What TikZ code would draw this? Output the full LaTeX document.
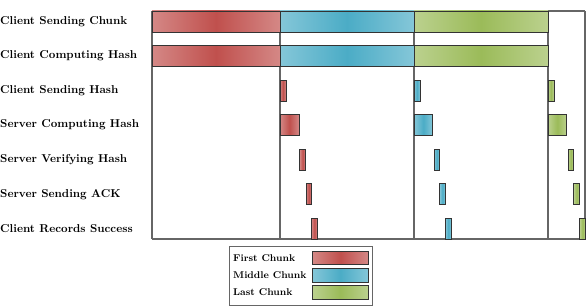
\documentclass[tikz,border=0pt]{standalone}
\definecolor{cred}{HTML}{C0504D}
\definecolor{cblue}{HTML}{4BACC6}
\definecolor{cgreen}{HTML}{9BBB59}
\definecolor{framec}{HTML}{666666}
\definecolor{barline}{HTML}{333333}
\tikzset{
  framel/.style={draw=framec, line width=1.1pt},
  barbox/.style={draw=barline, line width=0.7pt, left color=#1!68!white, right color=#1!68!white, middle color=#1},
  rowlabel/.style={anchor=west, inner sep=0pt, font=\bfseries},
  leglabel/.style={anchor=west, inner sep=0pt, font=\fontsize{8.6}{10}\selectfont\bfseries},
}
\newcommand\chbar[4]{% color, x1, x2, top
  \path[barbox=#1] (#2,#4) rectangle (#3,#4+21);}
\begin{document}
\begin{tikzpicture}[x=0.875pt,y=-0.875pt]
\useasboundingbox (0,0) rectangle (586,308);
% frame
\draw[framel] (152,11) -- (585,11);
\draw[framel] (152,239) -- (585,239);
\foreach \xx in {152,280,414,548,585} \draw[framel] (\xx,11) -- (\xx,239);
% labels
\node[rowlabel] (l1) at (0,21.5) {Client Sending Chunk};
\node[rowlabel] (l2) at (0,56.05) {Client Computing Hash};
\node[rowlabel] (l3) at (0,90.6) {Client Sending Hash};
\node[rowlabel] (l4) at (0,125.15) {Server Computing Hash};
\node[rowlabel] (l5) at (0,159.7) {Server Verifying Hash};
\node[rowlabel] (l6) at (0,194.25) {Server Sending ACK};
\node[rowlabel] (l7) at (0,228.8) {Client Records Success};
% row 1 and 2
\foreach \tp in {11,45.55}{
  \chbar{cred}{152}{280}{\tp}
  \chbar{cblue}{280}{414}{\tp}
  \chbar{cgreen}{414}{548}{\tp}
}
% row 3
\chbar{cred}{280}{286}{80.1}
\chbar{cblue}{414}{420}{80.1}
\chbar{cgreen}{548}{554}{80.1}
% row 4
\chbar{cred}{280}{299}{114.65}
\chbar{cblue}{414}{432.7}{114.65}
\chbar{cgreen}{548}{566.7}{114.65}
% row 5
\chbar{cred}{299.7}{305.7}{149.2}
\chbar{cblue}{434}{439.7}{149.2}
\chbar{cgreen}{568}{573.7}{149.2}
% row 6
\chbar{cred}{306}{311.7}{183.75}
\chbar{cblue}{439.7}{445.3}{183.75}
\chbar{cgreen}{573.7}{579.7}{183.75}
% row 7
\chbar{cred}{311.5}{317.3}{218.3}
\chbar{cblue}{445.3}{451.3}{218.3}
\chbar{cgreen}{579.7}{585.5}{218.3}
% legend
\draw[draw=framec, line width=0.6pt] (229,246) rectangle (372.7,305);
\node[leglabel] (lg1) at (233,258) {First Chunk};
\node[leglabel] (lg2) at (233,275.3) {Middle Chunk};
\node[leglabel] (lg3) at (233,292.5) {Last Chunk};
\path[barbox=cred] (312.3,251.3) rectangle (368.3,264.7);
\path[barbox=cblue] (312.3,268.7) rectangle (368.3,282);
\path[barbox=cgreen] (312.3,285.7) rectangle (368.3,299.3);
\end{tikzpicture}
\end{document}
